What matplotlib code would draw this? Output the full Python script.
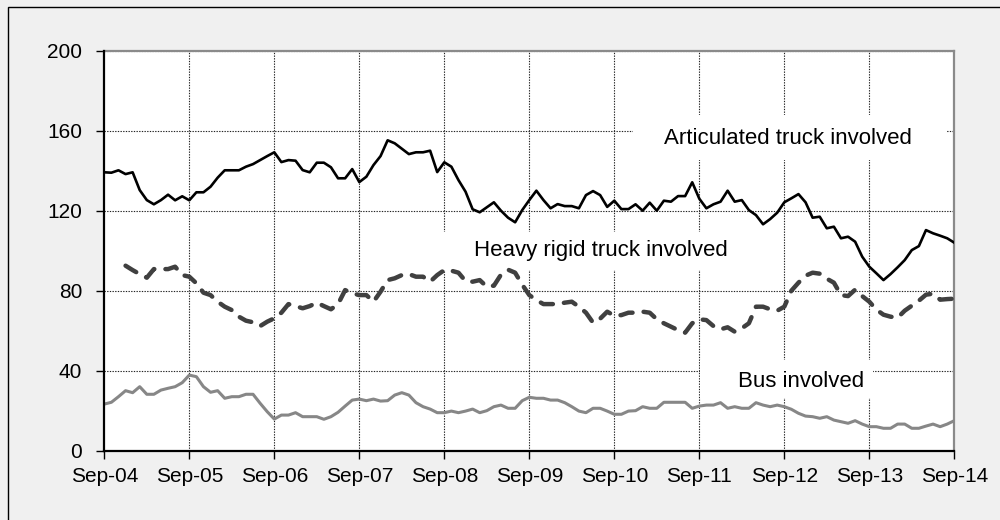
import numpy as np
import matplotlib
matplotlib.use("Agg")
import matplotlib.pyplot as plt
from matplotlib.patches import Rectangle

# ---- data (monthly, Sep-04 .. Sep-14) ----
tick_labels = ["Sep-04", "Sep-05", "Sep-06", "Sep-07", "Sep-08", "Sep-09",
               "Sep-10", "Sep-11", "Sep-12", "Sep-13", "Sep-14"]

articulated = [
    139.2, 139.0, 140.2, 138.3, 139.2, 130.3, 125.3, 123.2, 125.3, 128.0,
    125.2, 127.2, 125.2, 129.2, 129.2, 132.0, 136.5, 140.2, 140.2, 140.2,
    142.0, 143.3, 145.3, 147.3, 149.2, 144.3, 145.3, 145.0, 140.3, 139.2,
    144.0, 144.0, 141.7, 136.2, 136.2, 140.8, 134.3, 137.0, 142.8, 147.3,
    155.2, 153.7, 151.0, 148.3, 149.2, 149.2, 150.0, 139.3, 144.2, 142.0,
    135.3, 129.5, 120.7, 119.2, 121.7, 124.2, 120.0, 116.5, 114.2, 120.3,
    125.3, 130.0, 125.3, 121.2, 123.3, 122.3, 122.3, 121.2, 127.8, 129.8,
    127.8, 121.9, 125.0, 120.8, 120.8, 123.2, 120.0, 124.0, 120.0, 125.0,
    124.5, 127.3, 127.3, 134.2, 126.0, 121.2, 123.2, 124.5, 130.0, 124.5,
    125.3, 120.3, 117.8, 113.2, 115.8, 119.0, 124.2, 126.2, 128.3, 124.2,
    116.5, 117.0, 111.2, 112.0, 106.2, 107.0, 104.5, 97.0, 92.0, 88.7,
    85.3, 88.3, 91.7, 95.3, 100.3, 102.3, 110.3, 108.7, 107.5, 106.2,
    104.0]

heavy_rigid = [
    np.nan, np.nan, np.nan, 92.5, 90.3, 88.3, 86.5, 90.8, 90.8, 90.8,
    92.0, 87.8, 87.0, 83.7, 79.0, 77.8, 74.5, 72.0, 70.3, 67.0,
    65.0, 64.2, 62.3, 64.5, 66.2, 69.0, 73.3, 72.3, 71.2, 72.3,
    74.0, 72.3, 70.7, 73.3, 80.3, 78.7, 77.8, 77.8, 74.5, 79.5,
    85.3, 86.2, 87.8, 88.3, 87.0, 87.0, 84.5, 87.8, 90.3, 90.0,
    89.0, 84.8, 84.5, 85.3, 82.0, 82.5, 88.0, 90.5, 89.0, 83.0,
    77.8, 75.3, 73.3, 73.3, 73.3, 74.0, 74.5, 72.0, 69.0, 64.0,
    66.0, 69.5, 67.5, 67.8, 69.0, 69.0, 69.5, 69.0, 65.7, 63.7,
    62.0, 60.3, 59.0, 63.7, 65.7, 65.3, 62.3, 60.7, 61.7, 59.5,
    61.2, 63.7, 72.0, 72.0, 70.7, 70.0, 72.0, 80.0, 84.0, 87.5,
    89.0, 88.5, 86.0, 84.0, 77.8, 77.3, 80.5, 77.3, 74.5, 70.5,
    68.0, 67.0, 66.5, 70.0, 72.5, 75.0, 78.0, 78.5, 75.5, 75.8,
    76.0]

bus = [
    23.3, 24.2, 27.0, 30.0, 29.0, 32.0, 28.2, 28.2, 30.3, 31.2,
    32.0, 34.0, 37.8, 37.0, 32.0, 29.2, 30.0, 26.2, 27.0, 27.0,
    28.2, 28.2, 23.7, 19.5, 15.8, 17.8, 17.8, 19.0, 17.0, 17.0,
    17.0, 15.7, 17.0, 19.2, 22.3, 25.3, 25.8, 25.0, 25.8, 24.8,
    25.0, 27.8, 29.0, 27.8, 24.0, 22.0, 20.8, 19.0, 19.0, 19.8,
    19.0, 19.8, 20.8, 19.0, 20.0, 22.0, 22.8, 21.2, 21.2, 25.0,
    26.7, 26.2, 26.2, 25.3, 25.3, 24.0, 22.0, 19.8, 19.0, 21.2,
    21.2, 19.8, 18.2, 18.2, 19.8, 20.0, 22.0, 21.2, 21.2, 24.2,
    24.2, 24.2, 24.2, 21.2, 22.3, 22.8, 22.8, 24.0, 21.2, 22.0,
    21.2, 21.2, 24.0, 22.8, 22.0, 22.8, 22.0, 20.7, 18.7, 17.3,
    17.0, 16.2, 17.0, 15.3, 14.5, 13.7, 15.0, 13.3, 12.0, 12.0,
    11.2, 11.2, 13.3, 13.3, 11.2, 11.2, 12.3, 13.3, 12.0, 13.3,
    15.0]

y_ticks = [0, 40, 80, 120, 160, 200]

# ---- figure ----
plt.rcParams['font.family'] = ['Liberation Sans', 'DejaVu Sans']
fig = plt.figure(figsize=(10, 5.2), dpi=100)
fig.patch.set_facecolor('#f0f0f0')

# outer frame (top and left edges visible, the rest runs off the image)
fig.patches.append(Rectangle((0.0083, -0.1), 1.2, 1.0865, transform=fig.transFigure,
                             fill=False, edgecolor='black', linewidth=1.0))

ax = fig.add_axes([0.1043, 0.1333, 0.85, 0.7692])
ax.set_facecolor('white')

months = np.arange(len(articulated))
ax.set_xlim(0, 120)
ax.set_ylim(0, 200)

# grid
grid_kw = dict(color='#222222', linewidth=0.8, linestyle=(0, (1.2, 1.2)), zorder=1)
for yv in y_ticks[1:]:
    ax.axhline(yv, **grid_kw)
for xv in range(12, 121, 12):
    ax.axvline(xv, **grid_kw)

# white label boxes (cover gridlines)
for (x0, y0, w, h) in [(74.6, 145.3, 44.4, 22.7), (47.4, 90.3, 45.2, 19.0), (84.1, 26.3, 24.4, 19.0)]:
    ax.add_patch(Rectangle((x0, y0), w, h, facecolor='white', edgecolor='none', zorder=2))

# series
ax.plot(months, bus, color='#878787', linewidth=2.2, zorder=3, solid_joinstyle='round')
ax.plot(months, heavy_rigid, color='#404040', linewidth=3.2, zorder=3,
        linestyle=(0, (2.8, 2.5)), dash_capstyle='round', dash_joinstyle='round')
ax.plot(months, articulated, color='black', linewidth=1.9, zorder=4, solid_joinstyle='round')

# labels
ax.text(79.0, 156.3, "Articulated truck involved", fontsize=16, ha='left', va='center', zorder=5)
ax.text(52.2, 100.1, "Heavy rigid truck involved", fontsize=16, ha='left', va='center', zorder=5)
ax.text(89.5, 34.8, "Bus involved", fontsize=16, ha='left', va='center', zorder=5)

# axes styling
ax.set_xticks(range(0, 121, 12))
ax.set_xticklabels(tick_labels)
ax.set_yticks(y_ticks)
ax.set_yticklabels([str(v) for v in y_ticks])
ax.tick_params(axis='both', direction='out', length=6, width=1.0, colors='black', labelsize=15)
ax.tick_params(axis='y', pad=10)
ax.tick_params(axis='x', pad=6)

for side in ['left', 'bottom']:
    ax.spines[side].set_color('black')
    ax.spines[side].set_linewidth(1.6)
for side in ['top', 'right']:
    ax.spines[side].set_color('#8a8a8a')
    ax.spines[side].set_linewidth(1.6)
ax.spines['left'].set_zorder(6)
ax.spines['bottom'].set_zorder(6)

fig.savefig("out.png", dpi=100, facecolor=fig.get_facecolor())
